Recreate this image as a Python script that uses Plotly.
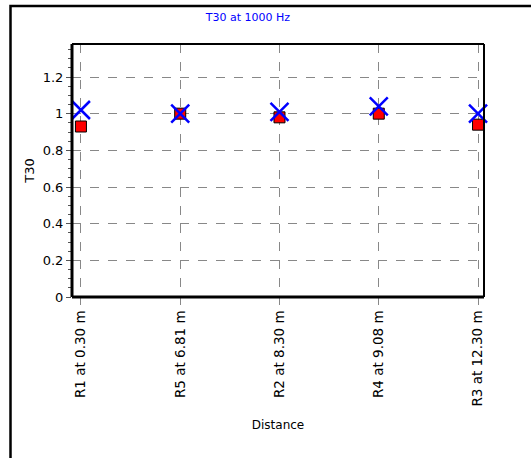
import plotly.graph_objects as go

categories = ["R1 at 0.30 m", "R5 at 6.81 m", "R2 at 8.30 m", "R4 at 9.08 m", "R3 at 12.30 m"]
measured = [0.93, 1.00, 0.98, 1.00, 0.94]
simulated = [1.02, 1.00, 1.01, 1.04, 1.00]

W, H = 531, 458
L, R, T, B = 72, 47, 44, 161
pw, ph = W - L - R, H - T - B

FONT = "DejaVu Sans, Liberation Sans, Arial, sans-serif"

fig = go.Figure()
fig.add_trace(go.Scatter(
    x=list(range(len(categories))), y=measured, mode="markers",
    marker=dict(symbol="square", size=11, color="red", line=dict(color="black", width=1)),
    showlegend=False, cliponaxis=False, hoverinfo="skip"))
fig.add_trace(go.Scatter(
    x=list(range(len(categories))), y=simulated, mode="markers",
    marker=dict(symbol="x-thin", size=18, color="blue", line=dict(color="blue", width=2.5)),
    showlegend=False, cliponaxis=False, hoverinfo="skip"))

def px(xp):
    return (xp - L) / pw

def py(yp):
    return 1 - (yp - T) / ph

fig.update_layout(
    width=W, height=H,
    margin=dict(l=L, r=R, t=T, b=B),
    paper_bgcolor="white", plot_bgcolor="white",
    font=dict(family=FONT, size=13, color="black"),
    title=dict(text="T30 at 1000 Hz", x=248 / W, xanchor="center",
               y=1 - 17 / H, yanchor="middle",
               font=dict(family=FONT, size=11, color="blue")),
    xaxis=dict(
        tickmode="array", tickvals=list(range(len(categories))), ticktext=categories,
        tickangle=-90, range=[-0.09, 4.06],
        showgrid=True, gridcolor="#888888", griddash="dash", gridwidth=1,
        ticks="outside", ticklen=7, tickcolor="#888888",
        showline=False, zeroline=False,
        title=dict(text="Distance", standoff=14, font=dict(family=FONT, size=12)),
        tickfont=dict(family=FONT, size=13.5),
    ),
    yaxis=dict(
        range=[0, 1.38], tickmode="array", tickvals=[0, 0.2, 0.4, 0.6, 0.8, 1, 1.2],
        ticktext=["0", "0.2", "0.4", "0.6", "0.8", "1", "1.2"],
        showgrid=True, gridcolor="#888888", griddash="dash", gridwidth=1,
        ticks="outside", ticklen=5, tickcolor="#555555",
        minor=dict(dtick=0.05, ticks="outside", ticklen=3, tickcolor="#555555", showgrid=False),
        showline=False, zeroline=False,
        title=dict(text="T30", standoff=5, font=dict(family=FONT, size=13)),
        tickfont=dict(family=FONT, size=13),
    ),
    shapes=[
        dict(type="rect", xref="paper", yref="paper", x0=px(10.5), x1=px(540), y0=py(470), y1=py(6),
             line=dict(color="black", width=2.5), fillcolor="rgba(0,0,0,0)", layer="below"),
        dict(type="line", xref="paper", yref="paper", x0=0, x1=1, y0=1, y1=1, line=dict(color="black", width=2)),
        dict(type="line", xref="paper", yref="paper", x0=1, x1=1, y0=0, y1=1, line=dict(color="black", width=2)),
        dict(type="line", xref="paper", yref="paper", x0=0, x1=0, y0=0, y1=1, line=dict(color="black", width=3)),
        dict(type="line", xref="paper", yref="paper", x0=0, x1=1, y0=0, y1=0, line=dict(color="black", width=3)),
    ],
)

fig.write_html("out.html", config={"displayModeBar": False},
               post_script="document.body.style.margin='0';")
